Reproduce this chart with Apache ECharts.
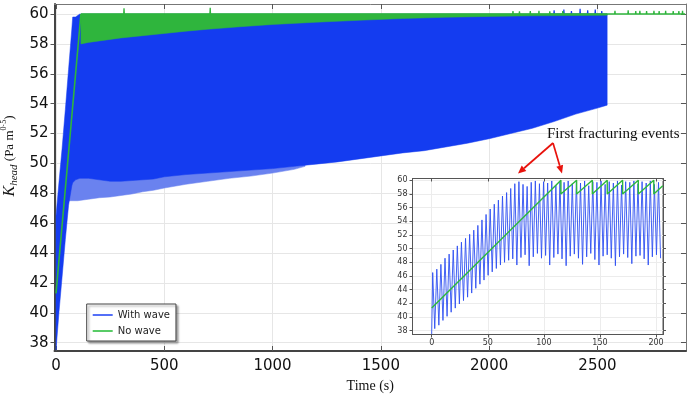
<!DOCTYPE html>
<html>
<head>
<meta charset="utf-8">
<script src="https://cdn.jsdelivr.net/npm/echarts@6/dist/echarts.min.js"></script>
<style>
html, body { margin: 0; padding: 0; background: #fff; }
#chart { width: 692px; height: 394px; }
</style>
</head>
<body>
<div id="chart"></div>
<script>
// ---- main plot: envelopes of the dense signals (time in s, K in Pa m^0.5) ----
var mainT    = [0, 14, 28, 43, 58, 73, 77, 90, 110, 150, 200, 250, 300, 350, 400, 450, 500,
                600, 700, 800, 900, 1000, 1100, 1200, 1300, 1400, 1500, 1600, 1700, 1800, 1900,
                2000, 2100, 2200, 2300, 2400, 2500, 2545];
var blueTop  = [46.5, 48.8, 51.0, 53.6, 56.3, 59.0, 59.8, 59.8, 60, 60, 60, 60, 60, 60, 60, 60, 60,
                60, 60, 60, 60, 60, 60, 60, 60, 60, 60, 60, 60, 60, 60,
                60, 60, 60, 60, 60, 60, 60];
var blueLow  = [37.5, 40.1, 42.4, 44.9, 47.2, 48.5, 48.7, 48.9, 49.0, 49.0, 48.9, 48.8, 48.8, 48.85, 48.9, 48.95, 49.1,
                49.25, 49.35, 49.45, 49.55, 49.65, 49.8, 49.95, 50.1, 50.3, 50.5, 50.7, 50.85, 51.1, 51.35,
                51.65, 52.0, 52.35, 52.8, 53.3, 53.7, 53.9];

// sparse deep troughs below the solid band
var fringeT    = [60, 100, 150, 200, 250, 300, 350, 400, 450, 500, 600, 700, 800, 900, 1000, 1100, 1150];
var fringeLow  = [47.5, 47.5, 47.6, 47.7, 47.75, 47.85, 47.95, 48.1, 48.2, 48.35, 48.6, 48.8, 49.0, 49.15, 49.35, 49.6, 49.8];
var fringeHigh = [49.2, 49.2, 49.2, 49.1, 49.0, 49.0, 49.05, 49.1, 49.15, 49.3, 49.45, 49.55, 49.65, 49.75, 49.85, 50.0, 50.05];

// blue spikes poking above 60 near the end
var blueSpikeT = [2300, 2345, 2380, 2420, 2455, 2490, 2520];
var blueSpikeV = [60.25, 60.3, 60.2, 60.35, 60.25, 60.3, 60.2];

// no-wave: linear rise, then dense sawtooth band below 60
var greenRampT = [0, 115];
var greenRampV = [41.3, 60];
var greenT     = [115, 150, 200, 300, 400, 500, 600, 700, 850, 1000, 1200, 1400, 1600, 1800, 2000, 2200, 2400, 2545];
var greenLow   = [58.0, 58.1, 58.2, 58.4, 58.55, 58.7, 58.85, 58.98, 59.15, 59.3, 59.45, 59.58, 59.7, 59.78, 59.84, 59.88, 59.9, 59.92];
var greenHigh  = 60;
var greenEndT  = 2905;
var greenSpikeT = [314, 712, 2110, 2140, 2190, 2230, 2280, 2340, 2581, 2642, 2677, 2696, 2727, 2761, 2785, 2815, 2850, 2876, 2893];
var greenSpikeV = [60.38, 60.42, 60.2, 60.18, 60.2, 60.22, 60.18, 60.2, 60.22, 60.25, 60.2, 60.22, 60.2, 60.22, 60.2, 60.22, 60.2, 60.2, 60.22];

// ---- inset: first 200 s ----
var insetFirst = 37.5;
var insetT0 = 0.9;
var insetCycle = 3.66;
var insetPeaks = [46.5, 47.0, 47.7, 48.6, 49.2, 49.8, 50.4, 50.95, 51.5, 52.1, 52.7, 53.4, 54.2, 55.0, 55.8, 56.5,
                  57.1, 57.7, 58.2, 58.8, 59.5, 59.8,
                  59.4, 59.1, 59.7, 59.9, 59.5, 59.8, 59.6, 59.9, 59.3, 59.8, 59.7, 59.9, 59.5, 59.8, 59.6, 59.9,
                  59.2, 59.8, 59.7, 59.9, 59.4, 59.8, 59.6, 59.9, 59.3, 59.8, 59.7, 59.9, 59.5, 59.8, 59.6, 59.9, 59.4, 59.7];
var insetTroughs = [38.3, 38.8, 39.5, 40.1, 40.7, 41.3, 41.9, 42.4, 42.9, 43.5, 44.2, 44.8, 45.4, 46.1, 46.6, 47.1,
                    47.6, 48.0, 48.3, 48.5, 47.6, 48.7,
                    49.1, 47.5, 48.8, 49.3, 48.6, 49.0, 47.6, 48.7, 49.2, 48.5, 47.5, 48.9, 49.2, 48.6, 47.7, 48.8,
                    49.3, 48.4, 47.6, 48.9, 49.1, 48.6, 47.5, 48.8, 49.2, 48.7, 47.8, 48.9, 49.0, 48.5, 47.6, 48.8, 49.1, 48.6];
var insetGreenT = [0, 115.2, 115.2, 129.2, 129.2, 143.2, 143.2, 156.5, 156.5, 170.2, 170.2, 184.2, 184.2, 198, 198, 206];
var insetGreenV = [41.3, 60, 58, 60, 58, 60, 58, 60, 58, 60, 58, 60, 58, 60, 58, 59.2];

// tick labels
var mainXTicks  = [0, 500, 1000, 1500, 2000, 2500];
var mainYTicks  = [38, 40, 42, 44, 46, 48, 50, 52, 54, 56, 58, 60];
var insetXTicks = [0, 50, 100, 150, 200];
var insetYTicks = [38, 40, 42, 44, 46, 48, 50, 52, 54, 56, 58, 60];

var BLUE = '#143cf0';
var GREEN = '#2fb53d';
var LABEL_FONT = 'DejaVu Sans';
var SERIF = 'Liberation Serif';

function pairs(xs, ys) {
    return xs.map(function (x, i) { return [x, ys[i]]; });
}
function spikeLine(t0, t1, level, ts, vs) {
    var pts = [[t0, level]];
    ts.forEach(function (t, i) { pts.push([t - 1.5, level], [t, vs[i]], [t + 1.5, level]); });
    pts.push([t1, level]);
    return pts;
}
function plain(v) { return String(v); }

// filled band between a lower and an upper envelope, drawn as one polygon
function bandSeries(name, xs, lows, highs, color, z) {
    var data = xs.map(function (x, i) {
        return [x, lows[i], typeof highs === 'number' ? highs : highs[i]];
    });
    return {
        name: name, type: 'custom', data: data, silent: true, z: z,
        itemStyle: { color: color },
        encode: { x: 0, y: [1, 2] },
        renderItem: function (params, api) {
            if (params.dataIndex !== 0) return null;
            var lower = data.map(function (d) { return api.coord([d[0], d[1]]); });
            var upper = data.map(function (d) { return api.coord([d[0], d[2]]); }).reverse();
            return {
                type: 'polygon',
                shape: { points: lower.concat(upper) },
                style: { fill: color, stroke: color, lineWidth: 0.5 }
            };
        }
    };
}

var insetBlue = [[0, insetFirst]];
insetPeaks.forEach(function (p, k) {
    var t = insetT0 + k * insetCycle;
    insetBlue.push([t, p], [t + insetCycle / 2, insetTroughs[k]]);
});

function arrow(x0, y0, x1, y1) {
    var a = Math.atan2(y1 - y0, x1 - x0), L = 8, W = 3.5;
    var bx = x1 - L * Math.cos(a), by = y1 - L * Math.sin(a);
    return [
        { type: 'line', z: 20, shape: { x1: x0, y1: y0, x2: bx, y2: by },
          style: { stroke: '#e8120c', lineWidth: 1.7 } },
        { type: 'polygon', z: 20,
          shape: { points: [[x1, y1], [bx - W * Math.sin(a), by + W * Math.cos(a)], [bx + W * Math.sin(a), by - W * Math.cos(a)]] },
          style: { fill: '#e8120c' } }
    ];
}

var myChart = echarts.init(document.getElementById('chart'), null, { renderer: 'canvas' });

var option = {
    animation: false,
    backgroundColor: '#fff',
    grid: [
        { left: 54.5, top: 4, width: 631.5, height: 347, outerBoundsMode: 'none' },
        { left: 412.5, top: 178.5, width: 250.5, height: 156, outerBoundsMode: 'none',
          show: true, backgroundColor: '#fff', borderColor: '#555', borderWidth: 1, z: 5 }
    ],
    legend: {
        data: [
            { name: 'With wave', itemStyle: { color: '#2a4cf5' } },
            { name: 'No wave', itemStyle: { color: '#2fbf40' } }
        ],
        orient: 'vertical', left: 86.7, top: 304, z: 10,
        icon: 'rect', itemWidth: 20, itemHeight: 1.6, itemGap: 4,
        padding: [5, 6, 4, 6],
        backgroundColor: '#fff', borderColor: '#444', borderWidth: 1,
        shadowColor: 'rgba(0,0,0,0.35)', shadowBlur: 2, shadowOffsetX: 2, shadowOffsetY: 2,
        textStyle: { fontFamily: LABEL_FONT, fontSize: 10, color: '#222', lineHeight: 12 },
        selectedMode: false
    },
    xAxis: [
        { type: 'value', gridIndex: 0, position: 'bottom', min: -7, max: 2909,
          minInterval: 500, maxInterval: 500,
          name: 'Time (s)', nameLocation: 'middle', nameGap: 27,
          nameTextStyle: { fontFamily: SERIF, fontSize: 14, color: '#111' },
          axisLine: { show: true, onZero: false, lineStyle: { color: '#444', width: 2 } },
          axisTick: { show: true, inside: true, length: 5, customValues: mainXTicks, lineStyle: { color: '#555' } },
          axisLabel: { customValues: mainXTicks, formatter: plain, margin: 8, fontFamily: LABEL_FONT, fontSize: 15, color: '#111' },
          splitLine: { show: true, lineStyle: { color: '#e6e6e6', width: 1 } } },
        { type: 'value', gridIndex: 0, position: 'top', min: -7, max: 2909,
          minInterval: 500, maxInterval: 500,
          axisLine: { show: true, onZero: false, lineStyle: { color: '#777', width: 1 } },
          axisTick: { show: true, inside: true, length: 5, customValues: mainXTicks, lineStyle: { color: '#555' } },
          axisLabel: { show: false }, splitLine: { show: false } },
        { type: 'value', gridIndex: 1, position: 'bottom', min: -17.1, max: 206.2, z: 6,
          minInterval: 50, maxInterval: 50,
          axisLine: { show: true, onZero: false, lineStyle: { color: '#555', width: 1 } },
          axisTick: { show: true, inside: false, length: 3, customValues: insetXTicks, lineStyle: { color: '#555' } },
          axisLabel: { customValues: insetXTicks, formatter: plain, margin: 4, fontFamily: LABEL_FONT, fontSize: 8, color: '#333' },
          splitLine: { show: true, lineStyle: { color: '#ececec', width: 1 } } },
        { type: 'value', gridIndex: 1, position: 'top', min: -17.1, max: 206.2, z: 6,
          minInterval: 50, maxInterval: 50,
          axisLine: { show: true, onZero: false, lineStyle: { color: '#555', width: 1 } },
          axisTick: { show: true, inside: true, length: 3, customValues: insetXTicks, lineStyle: { color: '#555' } },
          axisLabel: { show: false }, splitLine: { show: false } }
    ],
    yAxis: [
        { type: 'value', gridIndex: 0, position: 'left', min: 37.44, max: 60.67,
          minInterval: 2, maxInterval: 2,
          axisLine: { show: true, onZero: false, lineStyle: { color: '#444', width: 2 } },
          axisTick: { show: true, inside: false, length: 4, customValues: mainYTicks, lineStyle: { color: '#555' } },
          axisLabel: { customValues: mainYTicks, formatter: plain, margin: 6, fontFamily: LABEL_FONT, fontSize: 15, color: '#111' },
          splitLine: { show: true, lineStyle: { color: '#e6e6e6', width: 1 } } },
        { type: 'value', gridIndex: 0, position: 'right', min: 37.44, max: 60.67,
          minInterval: 2, maxInterval: 2,
          axisLine: { show: true, onZero: false, lineStyle: { color: '#777', width: 1 } },
          axisTick: { show: true, inside: true, length: 5, customValues: mainYTicks, lineStyle: { color: '#555' } },
          axisLabel: { show: false }, splitLine: { show: false } },
        { type: 'value', gridIndex: 1, position: 'left', min: 37.44, max: 60.26, z: 6,
          minInterval: 2, maxInterval: 2,
          axisLine: { show: true, onZero: false, lineStyle: { color: '#555', width: 1 } },
          axisTick: { show: true, inside: false, length: 3, customValues: insetYTicks, lineStyle: { color: '#555' } },
          axisLabel: { customValues: insetYTicks, formatter: plain, margin: 5, fontFamily: LABEL_FONT, fontSize: 8, color: '#333' },
          splitLine: { show: true, lineStyle: { color: '#ececec', width: 1 } } },
        { type: 'value', gridIndex: 1, position: 'right', min: 37.44, max: 60.26, z: 6,
          minInterval: 2, maxInterval: 2,
          axisLine: { show: true, onZero: false, lineStyle: { color: '#555', width: 1 } },
          axisTick: { show: true, inside: false, length: 3, customValues: insetYTicks, lineStyle: { color: '#555' } },
          axisLabel: { show: false }, splitLine: { show: false } }
    ],
    series: [
        bandSeries('fringe', fringeT, fringeLow, fringeHigh, '#6a82ef', 2),
        bandSeries('With wave', mainT, blueLow, blueTop, BLUE, 2),
        { name: 'blue spikes', type: 'line', data: spikeLine(2280, 2545, 60, blueSpikeT, blueSpikeV),
          symbol: 'none', lineStyle: { color: BLUE, width: 1.2 }, silent: true, z: 3 },
        bandSeries('No wave', greenT, greenLow, greenHigh, GREEN, 4),
        { name: 'green ramp', type: 'line', data: pairs(greenRampT, greenRampV),
          symbol: 'none', lineStyle: { color: GREEN, width: 1.6 }, silent: true, z: 4 },
        { name: 'green top', type: 'line', data: spikeLine(115, greenEndT, greenHigh, greenSpikeT, greenSpikeV),
          symbol: 'none', lineStyle: { color: GREEN, width: 1.3 }, silent: true, z: 4 },
        { name: 'inset with wave', type: 'line', xAxisIndex: 2, yAxisIndex: 2, data: insetBlue,
          symbol: 'none', lineStyle: { color: '#2f50f2', width: 0.9 }, silent: true, z: 7 },
        { name: 'inset no wave', type: 'line', xAxisIndex: 2, yAxisIndex: 2,
          data: pairs(insetGreenT, insetGreenV),
          symbol: 'none', lineStyle: { color: '#2db83c', width: 1.4 }, silent: true, z: 8 }
    ],
    graphic: [
        { type: 'text', z: 20, x: 10, y: 156, rotation: Math.PI / 2,
          style: {
              text: '{k|K}{h|head}{t| (Pa m}{s|0·5}{t|)}',
              align: 'center', verticalAlign: 'middle', fill: '#111',
              rich: {
                  k: { fontFamily: SERIF, fontStyle: 'italic', fontSize: 16, lineHeight: 20, verticalAlign: 'middle', fill: '#111' },
                  h: { fontFamily: SERIF, fontStyle: 'italic', fontSize: 11, lineHeight: 20, verticalAlign: 'bottom', fill: '#111' },
                  t: { fontFamily: SERIF, fontSize: 13, lineHeight: 20, verticalAlign: 'middle', fill: '#111' },
                  s: { fontFamily: SERIF, fontSize: 8, lineHeight: 20, verticalAlign: 'top', fill: '#111' }
              }
          } },
        { type: 'text', z: 20, x: 547, y: 134,
          style: { text: 'First fracturing events', fontFamily: SERIF, fontSize: 15, fill: '#111',
                   align: 'left', verticalAlign: 'middle' } }
    ].concat(arrow(553, 143, 518, 173.5), arrow(553, 143, 562, 173.5))
};

myChart.setOption(option);

window.addEventListener('resize', function () {
    myChart.resize();
});
</script>
</body>
</html>
